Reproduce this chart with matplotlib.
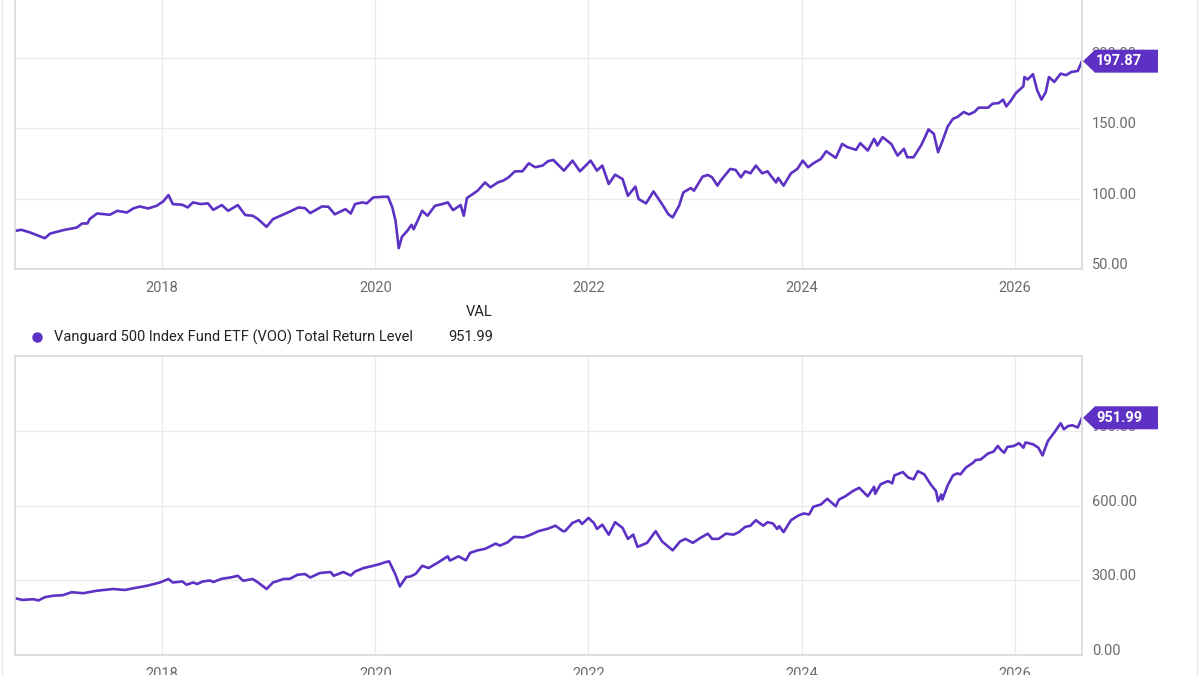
import matplotlib
matplotlib.use('Agg')
import matplotlib.pyplot as plt
import matplotlib.transforms as mtransforms
from matplotlib.patches import Polygon
from matplotlib.lines import Line2D
from matplotlib import font_manager

# top panel series, x in decimal years
top_years = [2016.62, 2016.68, 2016.76, 2016.90, 2016.95, 2017.07, 2017.20, 2017.25, 2017.30, 2017.32,
             2017.39, 2017.51, 2017.58, 2017.67, 2017.73, 2017.79, 2017.87, 2017.95, 2018.01, 2018.06,
             2018.10, 2018.19, 2018.24, 2018.29, 2018.36, 2018.43, 2018.48, 2018.56, 2018.62, 2018.71,
             2018.78, 2018.85, 2018.90, 2018.98, 2019.04, 2019.14, 2019.20, 2019.28, 2019.34, 2019.39,
             2019.50, 2019.56, 2019.62, 2019.72, 2019.77, 2019.81, 2019.88, 2019.92, 2019.98, 2020.08,
             2020.12, 2020.16, 2020.19, 2020.22, 2020.25, 2020.30, 2020.34, 2020.36, 2020.44, 2020.49,
             2020.56, 2020.63, 2020.68, 2020.73, 2020.80, 2020.83, 2020.86, 2020.96, 2021.03, 2021.08,
             2021.15, 2021.20, 2021.25, 2021.31, 2021.38, 2021.44, 2021.50, 2021.57, 2021.62, 2021.67,
             2021.77, 2021.85, 2021.92, 2022.02, 2022.08, 2022.13, 2022.19, 2022.25, 2022.32, 2022.37,
             2022.44, 2022.47, 2022.54, 2022.61, 2022.69, 2022.75, 2022.79, 2022.85, 2022.89, 2022.96,
             2022.99, 2023.07, 2023.12, 2023.16, 2023.21, 2023.24, 2023.33, 2023.38, 2023.43, 2023.47,
             2023.52, 2023.57, 2023.63, 2023.68, 2023.71, 2023.76, 2023.78, 2023.83, 2023.90, 2023.96,
             2024.01, 2024.06, 2024.11, 2024.18, 2024.23, 2024.32, 2024.38, 2024.43, 2024.51, 2024.55,
             2024.62, 2024.68, 2024.71, 2024.76, 2024.84, 2024.90, 2024.96, 2024.99, 2025.05, 2025.12,
             2025.15, 2025.19, 2025.24, 2025.28, 2025.32, 2025.37, 2025.42, 2025.46, 2025.52, 2025.57,
             2025.62, 2025.66, 2025.75, 2025.79, 2025.85, 2025.89, 2025.92, 2025.96, 2026.01, 2026.08,
             2026.09, 2026.12, 2026.17, 2026.21, 2026.25, 2026.29, 2026.32, 2026.37, 2026.43, 2026.48,
             2026.53, 2026.59, 2026.63]
top_vals = [77.1, 77.9, 76.0, 71.9, 75.2, 77.6, 79.5, 82.4, 82.4, 85.5,
            89.5, 88.6, 91.4, 90.2, 93.1, 94.5, 93.1, 95.0, 98.1, 102.6,
            96.2, 95.7, 93.8, 97.4, 96.2, 96.7, 92.1, 95.5, 91.4, 95.5,
            88.4, 87.9, 85.5, 80.0, 85.5, 88.9, 90.9, 93.8, 93.3, 89.8,
            94.5, 94.3, 88.9, 92.6, 89.5, 96.2, 97.4, 96.7, 100.9, 101.4,
            101.4, 93.8, 84.3, 64.8, 72.9, 77.1, 81.4, 78.3, 91.4, 87.9,
            95.0, 96.2, 97.4, 91.9, 95.5, 87.9, 100.5, 105.7, 111.6, 108.1,
            111.6, 112.9, 115.2, 119.5, 119.5, 125.2, 122.4, 123.6, 126.7, 127.6,
            120.0, 127.1, 119.5, 127.1, 120.0, 123.6, 110.5, 117.1, 114.0, 102.1,
            108.6, 99.8, 96.7, 105.2, 96.2, 88.9, 86.7, 95.0, 104.5, 107.6,
            105.7, 115.7, 116.9, 115.2, 109.3, 112.9, 121.2, 120.5, 115.2, 119.5,
            118.1, 123.6, 118.1, 119.5, 116.4, 111.6, 114.8, 109.3, 118.1, 121.2,
            127.1, 122.4, 125.2, 128.3, 133.8, 129.1, 139.0, 136.7, 134.8, 139.5,
            134.3, 142.6, 137.9, 143.8, 139.0, 130.7, 135.5, 129.5, 129.5, 137.9,
            142.6, 149.3, 146.2, 133.1, 140.9, 151.4, 156.9, 158.1, 161.7, 160.0,
            161.7, 164.8, 164.8, 167.6, 168.1, 170.5, 165.7, 169.5, 175.2, 180.0,
            186.6, 184.8, 188.6, 177.1, 170.5, 175.9, 186.6, 183.1, 189.0, 187.9,
            190.2, 190.9, 197.87]

# VOO total return level
voo_years = [2016.62, 2016.69, 2016.79, 2016.84, 2016.90, 2016.98, 2017.07, 2017.15, 2017.26, 2017.39,
             2017.54, 2017.65, 2017.77, 2017.86, 2017.98, 2018.06, 2018.10, 2018.19, 2018.23, 2018.29,
             2018.33, 2018.38, 2018.45, 2018.48, 2018.56, 2018.64, 2018.71, 2018.76, 2018.81, 2018.85,
             2018.90, 2018.98, 2019.04, 2019.14, 2019.20, 2019.27, 2019.34, 2019.39, 2019.48, 2019.58,
             2019.61, 2019.70, 2019.77, 2019.81, 2019.89, 2019.93, 2019.98, 2020.05, 2020.09, 2020.13,
             2020.19, 2020.23, 2020.29, 2020.33, 2020.38, 2020.44, 2020.50, 2020.58, 2020.68, 2020.70,
             2020.78, 2020.85, 2020.89, 2020.96, 2021.03, 2021.13, 2021.17, 2021.24, 2021.30, 2021.39,
             2021.46, 2021.53, 2021.62, 2021.69, 2021.76, 2021.78, 2021.85, 2021.91, 2021.94, 2022.00,
             2022.05, 2022.08, 2022.13, 2022.19, 2022.25, 2022.32, 2022.37, 2022.42, 2022.46, 2022.55,
             2022.63, 2022.69, 2022.79, 2022.86, 2022.91, 2022.98, 2023.05, 2023.12, 2023.16, 2023.22,
             2023.29, 2023.36, 2023.41, 2023.47, 2023.52, 2023.57, 2023.64, 2023.68, 2023.73, 2023.77,
             2023.79, 2023.83, 2023.90, 2023.97, 2024.02, 2024.07, 2024.11, 2024.18, 2024.24, 2024.32,
             2024.35, 2024.41, 2024.48, 2024.54, 2024.62, 2024.68, 2024.69, 2024.74, 2024.81, 2024.85,
             2024.87, 2024.95, 2025.00, 2025.05, 2025.09, 2025.15, 2025.21, 2025.26, 2025.28, 2025.31,
             2025.32, 2025.37, 2025.42, 2025.46, 2025.49, 2025.54, 2025.61, 2025.63, 2025.68, 2025.75,
             2025.80, 2025.84, 2025.87, 2025.90, 2025.93, 2025.99, 2026.04, 2026.08, 2026.10, 2026.17,
             2026.22, 2026.26, 2026.31, 2026.37, 2026.43, 2026.46, 2026.50, 2026.54, 2026.59, 2026.63]
voo_vals = [228, 221, 224, 219, 232, 238, 240, 252, 248, 258,
            265, 261, 271, 278, 291, 305, 291, 295, 282, 291,
            285, 295, 299, 293, 306, 311, 318, 298, 302, 305,
            291, 265, 291, 305, 306, 322, 325, 311, 329, 333,
            318, 333, 319, 335, 349, 353, 358, 366, 372, 376,
            322, 275, 313, 315, 326, 358, 349, 369, 396, 379,
            396, 380, 410, 420, 426, 447, 439, 452, 474, 472,
            483, 497, 507, 519, 497, 497, 530, 541, 526, 550,
            530, 506, 523, 483, 533, 510, 466, 483, 434, 450,
            497, 456, 420, 456, 466, 450, 470, 487, 466, 466,
            487, 483, 493, 514, 519, 541, 519, 533, 528, 506,
            517, 493, 541, 560, 568, 564, 595, 604, 627, 597,
            624, 637, 658, 671, 637, 675, 647, 685, 698, 689,
            721, 734, 712, 705, 738, 725, 685, 658, 617, 644,
            624, 681, 721, 729, 725, 752, 772, 782, 785, 809,
            816, 839, 823, 812, 835, 839, 850, 832, 853, 846,
            832, 801, 859, 893, 930, 906, 919, 922, 913, 951.99]

year_ticks = [2018, 2020, 2022, 2024, 2026]
top_ticks = [50, 100, 150, 200]
voo_ticks = [0, 300, 600, 900]
series_name = 'Vanguard 500 Index Fund ETF (VOO) Total Return Level'

purple = '#5d31c4'
grid_c = '#ebebeb'
spine_c = '#d9d9d9'
tick_c = '#6b6b6b'

# narrow font if there is one, else Roboto a bit smaller
names = {f.name for f in font_manager.fontManager.ttflist}
if 'Liberation Sans Narrow' in names:
    font, fs = 'Liberation Sans Narrow', 13
else:
    font, fs = 'Roboto', 10.5
plt.rcParams['font.family'] = [font, 'DejaVu Sans']

fig = plt.figure(figsize=(12, 6.75), dpi=100)
ax1 = fig.add_axes([15 / 1200, 1 - 269 / 675, 1067 / 1200, 269 / 675])
ax2 = fig.add_axes([15 / 1200, 1 - 655 / 675, 1067 / 1200, 299 / 675])


def style(ax, yticks, ylim):
    ax.set_xlim(2016.62, 2026.63)
    ax.set_ylim(*ylim)
    ax.set_xticks(year_ticks, [str(y) for y in year_ticks])
    ax.set_yticks(yticks, [f'{v:.2f}' for v in yticks], va='baseline')
    ax.yaxis.tick_right()
    ax.tick_params(axis='both', length=0, colors=tick_c, labelsize=fs)
    ax.tick_params(axis='x', pad=9)
    ax.tick_params(axis='y', pad=7)
    ax.grid(True, color=grid_c, linewidth=1)
    ax.set_axisbelow(True)
    for s in ax.spines.values():
        s.set_color(spine_c)
        s.set_linewidth(1.2)


def value_tag(ax, value, label):
    # purple arrow box at the right edge, sized in pixels
    anchor = mtransforms.ScaledTranslation(1, value, ax.get_yaxis_transform())
    poly = Polygon([(1, 0), (13, 11.5), (76, 11.5), (76, -11.5), (13, -11.5)],
                   closed=True, transform=anchor, facecolor=purple, edgecolor='none',
                   clip_on=False, zorder=10)
    ax.add_patch(poly)
    ax.text(14, 0, label, transform=anchor, color='white', fontsize=fs, fontweight='bold',
            ha='left', va='center', zorder=11, clip_on=False)


style(ax1, top_ticks, (50, 241.4))
ax1.spines['top'].set_visible(False)
ax1.plot(top_years, top_vals, color=purple, linewidth=1.9, solid_joinstyle='round')
value_tag(ax1, top_vals[-1], f'{top_vals[-1]:.2f}')

style(ax2, voo_ticks, (0, 1200))
ax2.plot(voo_years, voo_vals, color=purple, linewidth=1.9, solid_joinstyle='round')
value_tag(ax2, voo_vals[-1], f'{voo_vals[-1]:.2f}')

# legend block between the panels
fig.text(493 / 1200, 1 - 312 / 675, 'VAL', ha='right', va='center', fontsize=fs, color='#222222')
fig.add_artist(Line2D([37 / 1200], [1 - 337 / 675], marker='o', markersize=6.5,
                      color=purple, transform=fig.transFigure))
fig.text(54 / 1200, 1 - 337 / 675, series_name, ha='left', va='center', fontsize=fs, color='#222222')
fig.text(493 / 1200, 1 - 337 / 675, f'{voo_vals[-1]:.2f}', ha='right', va='center',
         fontsize=fs, color='#222222')

# faint page borders
for xb in (2 / 1200, 1197 / 1200):
    fig.add_artist(Line2D([xb, xb], [0, 1], color='#e8e8e8', linewidth=1, transform=fig.transFigure))

fig.savefig('out.png', dpi=100, facecolor='white')
